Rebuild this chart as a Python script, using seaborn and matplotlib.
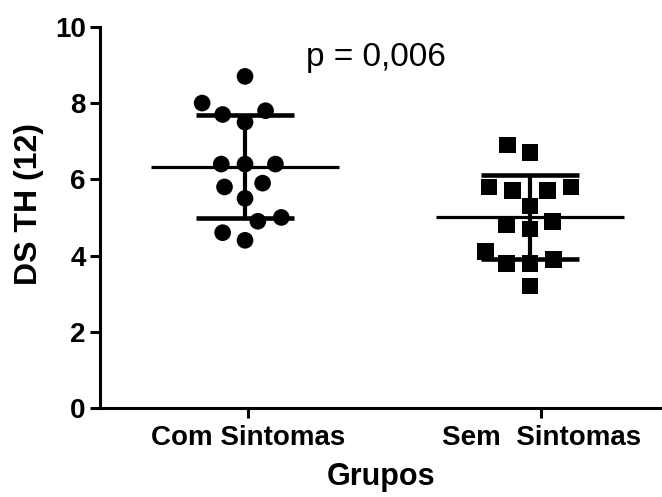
import numpy as np
import pandas as pd
import matplotlib
matplotlib.use("Agg")
import matplotlib.pyplot as plt
import seaborn as sns

# ---- data ----
groups = ["Com Sintomas", "Sem  Sintomas"]
com_sintomas = [8.7, 8.0, 7.8, 7.7, 7.5, 6.4, 6.4, 6.4, 5.9, 5.8, 5.5, 5.0, 4.9, 4.6, 4.4]
sem_sintomas = [6.9, 6.7, 5.8, 5.8, 5.7, 5.7, 5.3, 4.9, 4.8, 4.7, 4.1, 3.9, 3.8, 3.8, 3.2]
y_ticks = [0, 2, 4, 6, 8, 10]
p_text = "p = 0,006"
x_label = "Grupos"
y_label = "DS TH (12)"

df = pd.DataFrame({
    "grupo": [groups[0]] * len(com_sintomas) + [groups[1]] * len(sem_sintomas),
    "valor": com_sintomas + sem_sintomas,
})

sns.set_theme(style="ticks")
plt.rcParams["font.family"] = ["Liberation Sans", "DejaVu Sans"]
for k in ["text.color", "axes.labelcolor", "xtick.color", "ytick.color", "axes.edgecolor"]:
    plt.rcParams[k] = "black"

fig = plt.figure(figsize=(6.62, 4.97), dpi=100)
ax = fig.add_axes([0.151, 0.179, 0.849, 0.767])

markers = ["o", "s"]
for g, m in zip(groups, markers):
    sns.swarmplot(data=df[df["grupo"] == g], x="grupo", y="valor", order=groups,
                  marker=m, color="black", size=12, linewidth=4.3,
                  edgecolor="none", ax=ax, zorder=3)

# mean +/- SD
for i, vals in enumerate([com_sintomas, sem_sintomas]):
    arr = np.array(vals)
    mu, sd = arr.mean(), arr.std(ddof=1)
    ax.hlines(mu, i - 0.33, i + 0.33, color="black", lw=2.3, zorder=4)
    ax.errorbar([i], [mu], yerr=[sd], fmt="none", ecolor="black",
                elinewidth=3, capsize=35, capthick=3.3, zorder=4)

ax.set_ylim(0, 10)
ax.set_yticks(y_ticks)
ax.set_xlim(-0.509, 1.463)
ax.set_xticks([0.01, 1.04])
ax.set_xticklabels(groups)

for lab in ax.get_xticklabels():
    lab.set_fontweight("bold")
    lab.set_fontsize(20)
for lab in ax.get_yticklabels():
    lab.set_fontweight("bold")
    lab.set_fontsize(20)

ax.tick_params(axis="both", direction="out", length=7.2, width=2.2, color="black")
ax.tick_params(axis="y", pad=3)
ax.tick_params(axis="x", pad=5)
ax.set_xlabel(x_label, fontsize=22, fontweight="bold", labelpad=8)
ax.set_ylabel(y_label, fontsize=23, fontweight="bold")
ax.yaxis.set_label_coords(-0.100, 0.535)

sns.despine(ax=ax)
for s in ["left", "bottom"]:
    ax.spines[s].set_linewidth(2.2)
    ax.spines[s].set_color("black")

ax.text(0.46, 8.98, p_text, fontsize=24, ha="center", va="baseline", color="black")

fig.savefig("out.png", dpi=100)
